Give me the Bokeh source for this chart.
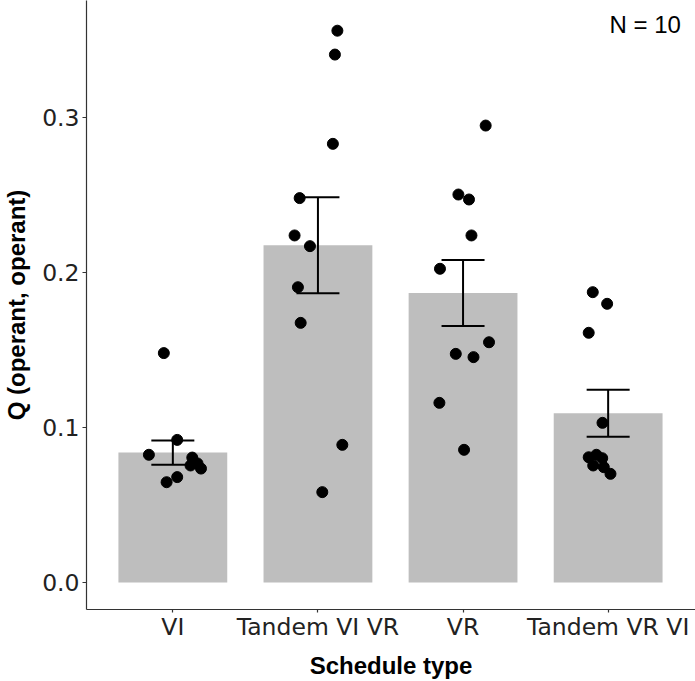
from bokeh.plotting import figure
from bokeh.models import (ColumnDataSource, Range1d, FixedTicker, Whisker, TeeHead,
                          Label, NumeralTickFormatter)
from bokeh.embed import file_html
from bokeh.resources import INLINE

# ---- data ----
categories = ["VI", "Tandem VI VR", "VR", "Tandem VR VI"]
means = [0.0838, 0.2176, 0.1868, 0.1092]
se = [0.0078, 0.0310, 0.0213, 0.0151]

vi_vals = [0.148, 0.092, 0.0824, 0.0806, 0.078, 0.0755, 0.0768, 0.0735, 0.068, 0.0647]
vi_jit = [-0.062, 0.030, -0.165, 0.134, 0.143, 0.122, 0.170, 0.194, 0.030, -0.043]
tvivr_vals = [0.356, 0.3406, 0.283, 0.248, 0.2239, 0.217, 0.1905, 0.1675, 0.0888, 0.0583]
tvivr_jit = [0.134, 0.117, 0.103, -0.126, -0.161, -0.055, -0.138, -0.119, 0.168, 0.030]
vr_vals = [0.2948, 0.2503, 0.2471, 0.2239, 0.2024, 0.155, 0.1475, 0.1454, 0.1159, 0.0856]
vr_jit = [0.156, -0.032, 0.041, 0.058, -0.159, 0.179, -0.050, 0.072, -0.163, 0.007]
tvrvi_vals = [0.1873, 0.1798, 0.1611, 0.103, 0.0808, 0.0824, 0.0802, 0.0755, 0.0744, 0.0701]
tvrvi_jit = [-0.106, -0.007, -0.134, -0.039, -0.134, -0.081, -0.041, -0.103, -0.030, 0.016]

y_ticks = [0.0, 0.1, 0.2, 0.3]
annotation_text = "N = 10"

# ---- sources ----
pos = list(range(1, len(categories) + 1))
bar_src = ColumnDataSource(dict(
    x=pos, top=means,
    upper=[m + s for m, s in zip(means, se)],
    lower=[m - s for m, s in zip(means, se)],
))

px, py = [], []
for i, (vals, jit) in enumerate([(vi_vals, vi_jit), (tvivr_vals, tvivr_jit),
                                 (vr_vals, vr_jit), (tvrvi_vals, tvrvi_jit)]):
    for v, j in zip(vals, jit):
        px.append(pos[i] + j)
        py.append(v)
pt_src = ColumnDataSource(dict(x=px, y=py))

# ---- figure ----
p = figure(width=695, height=681, output_backend="svg", toolbar_location=None,
           x_range=Range1d(0.405, 4.602), y_range=Range1d(-0.01742, 0.37548),
           min_border_left=86, min_border_right=0, min_border_top=0, min_border_bottom=72)
p.outline_line_color = None
p.xgrid.visible = False
p.ygrid.visible = False
p.background_fill_color = "white"

p.vbar(x="x", top="top", width=0.75, bottom=0, source=bar_src,
       fill_color="#BEBEBE", line_color=None)

wh = Whisker(base="x", upper="upper", lower="lower", source=bar_src,
             line_color="black", line_width=2, level="overlay",
             upper_head=TeeHead(size=43, line_color="black", line_width=2),
             lower_head=TeeHead(size=43, line_color="black", line_width=2))
p.add_layout(wh)

p.scatter(x="x", y="y", source=pt_src, size=11, fill_color="black", line_color="black")

p.add_layout(Label(x=4.255, y=0.36, text=annotation_text, text_align="center",
                   text_baseline="middle", text_font="Liberation Sans",
                   text_font_size="24px", text_color="black"))

# axes
p.xaxis.ticker = FixedTicker(ticks=pos)
p.xaxis.major_label_overrides = {k: c for k, c in zip(pos, categories)}
p.yaxis.ticker = FixedTicker(ticks=y_ticks)
p.yaxis.formatter = NumeralTickFormatter(format="0.0")

for ax in (p.xaxis[0], p.yaxis[0]):
    ax.axis_line_color = "#333333"
    ax.axis_line_width = 1.2
    ax.major_tick_line_color = "#333333"
    ax.major_tick_line_width = 1.2
    ax.major_tick_in = 0
    ax.major_tick_out = 4
    ax.minor_tick_line_color = None
    ax.major_label_text_font = "DejaVu Sans"
    ax.major_label_text_font_size = "23.5px"
    ax.major_label_text_color = "#222222"
    ax.axis_label_text_font = "Liberation Sans"
    ax.axis_label_text_font_style = "bold"
    ax.axis_label_text_font_size = "24px"
    ax.axis_label_text_color = "black"

p.xaxis.major_tick_out = 3
p.xaxis.axis_label = "Schedule type"
p.yaxis.axis_label = "Q (operant, operant)"
p.xaxis.major_label_standoff = 0
p.yaxis.major_label_standoff = 3
p.xaxis.axis_label_standoff = 8
p.yaxis.axis_label_standoff = 9

open("out.html", "w").write(file_html(p, INLINE))
